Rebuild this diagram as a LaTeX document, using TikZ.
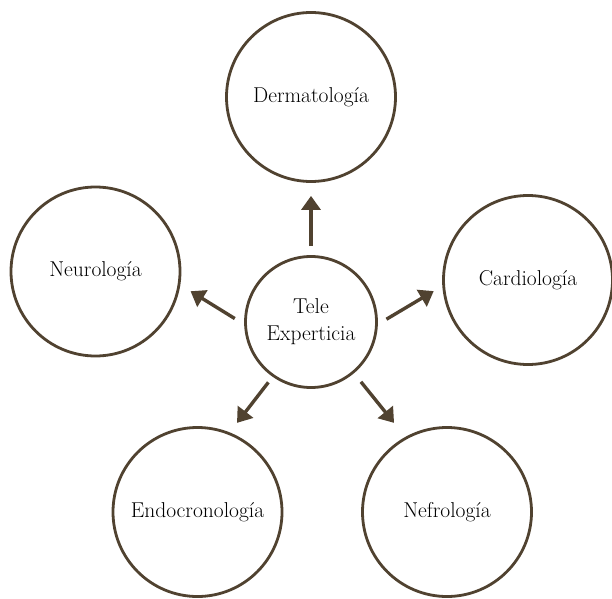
\documentclass[tikz,border=0pt]{standalone}
\usepackage{fontspec}
\usepackage{tikz}
\usetikzlibrary{arrows.meta}
\definecolor{ink}{RGB}{80,66,48}
\tikzset{
  area/.style   ={circle, draw=ink, line width=2.8pt, fill=white,
                  align=center, text=black,
                  font=\fontsize{21.5}{27}\selectfont, inner sep=0pt},
  hub/.style    ={area, minimum size=131pt},
  spoke/.style  ={area, minimum size=169pt},
  refer/.style  ={-{Triangle[length=14pt, width=19pt]}, ink,
                  line width=3.4pt},
}
\begin{document}
\begin{tikzpicture}[x=1pt, y=1pt]
\useasboundingbox (0,0) rectangle (612,598);

\node[hub]   (tele)   at (311,276)   {Tele\\Experticia};
\node[spoke] (derm)   at (311,501)   {Dermatología};
\node[spoke] (neuro)  at (95.5,326.5) {Neurología};
\node[spoke] (cardio) at (528,318)   {Cardiología};
\node[spoke] (endo)   at (197.5,86)  {Endocronología};
\node[spoke] (nefro)  at (447,86)    {Nefrología};

% referrals from the hub
\draw[refer, shorten <=9pt,  shorten >=13pt] (tele.90)    -- (derm.-90);
\draw[refer, shorten <=11pt, shorten >=12pt] (tele.182)   -- (neuro.-9.5);
\draw[refer, shorten <=10pt, shorten >=10pt] (tele.-2)    -- (cardio.184.6);
\draw[refer, shorten <=7pt,  shorten >=12pt] (tele.235.6) -- (endo.68.8);
\draw[refer, shorten <=11pt, shorten >=18pt] (tele.-50.9) -- (nefro.119.7);

\end{tikzpicture}
\end{document}
